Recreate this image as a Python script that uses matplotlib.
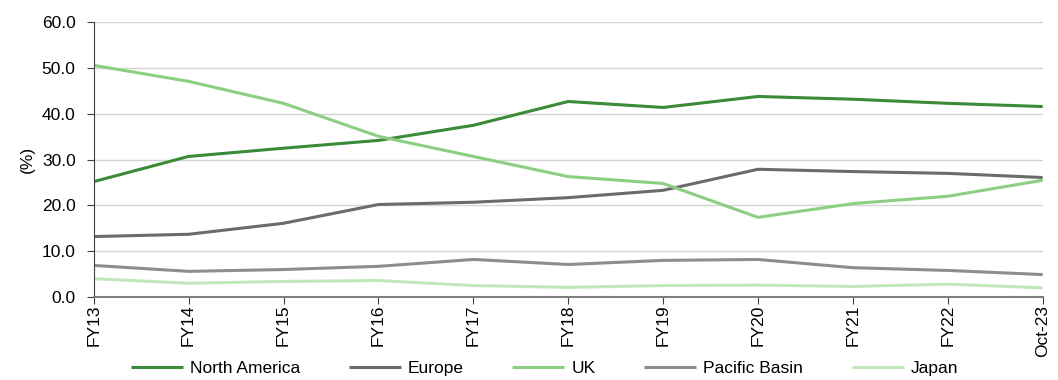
import matplotlib
matplotlib.use("Agg")
import matplotlib.pyplot as plt

plt.rcParams['font.family'] = ['Liberation Sans', 'DejaVu Sans']

periods = ['FY13', 'FY14', 'FY15', 'FY16', 'FY17', 'FY18', 'FY19', 'FY20', 'FY21', 'FY22', 'Oct-23']
north_america = [25.2, 30.7, 32.5, 34.2, 37.5, 42.7, 41.4, 43.8, 43.2, 42.3, 41.6]
europe = [13.2, 13.7, 16.1, 20.2, 20.7, 21.7, 23.3, 27.9, 27.4, 27.0, 26.1]
uk = [50.6, 47.1, 42.3, 35.1, 30.7, 26.3, 24.8, 17.4, 20.4, 22.0, 25.5]
pacific_basin = [6.9, 5.6, 6.0, 6.7, 8.2, 7.1, 8.0, 8.2, 6.4, 5.8, 4.9]
japan = [4.0, 3.0, 3.4, 3.6, 2.5, 2.1, 2.5, 2.6, 2.3, 2.8, 2.0]

series = [
    ('North America', north_america, '#3b8a37'),
    ('Europe', europe, '#6b6b6b'),
    ('UK', uk, '#8ccf82'),
    ('Pacific Basin', pacific_basin, '#8e8e8e'),
    ('Japan', japan, '#c2e6bb'),
]

fs = 12.5
fig = plt.figure(figsize=(10.58, 3.8), dpi=100)
# axes box: x 93.7..1042.7 px, y 22.3..297 px
ax = fig.add_axes((93.7 / 1058, 1 - 297 / 380, 949 / 1058, 274.7 / 380))

x = range(len(periods))
for name, vals, col in series:
    ax.plot(x, vals, color=col, lw=2.2, label=name, solid_capstyle='butt')

ax.set_xlim(0, len(periods) - 1)
ax.set_ylim(0, 60)
ax.set_yticks(range(0, 61, 10))
ax.set_yticklabels([f'{v:.1f}' for v in range(0, 61, 10)], fontsize=fs)
ax.set_xticks(list(x))
ax.set_xticklabels(periods, rotation=90, fontsize=fs)
ax.grid(axis='y', color='#d4d4d4', lw=1)
ax.set_axisbelow(True)
ax.set_ylabel('(%)', fontsize=fs, labelpad=5)

for s in ['top', 'right']:
    ax.spines[s].set_visible(False)
ax.spines['left'].set_color('#404040')
ax.spines['bottom'].set_color('#7f7f7f')
ax.spines['bottom'].set_linewidth(1.5)
ax.tick_params(axis='y', direction='out', length=5, color='#404040', pad=8)
ax.tick_params(axis='x', direction='out', length=5, color='#404040', pad=0.5)

fig.legend(loc='center', bbox_to_anchor=(0.5147, 0.03), ncol=5, frameon=False,
           fontsize=fs, handlelength=3.0, columnspacing=2.8, handletextpad=0.4)

fig.savefig('out.png', dpi=100)
